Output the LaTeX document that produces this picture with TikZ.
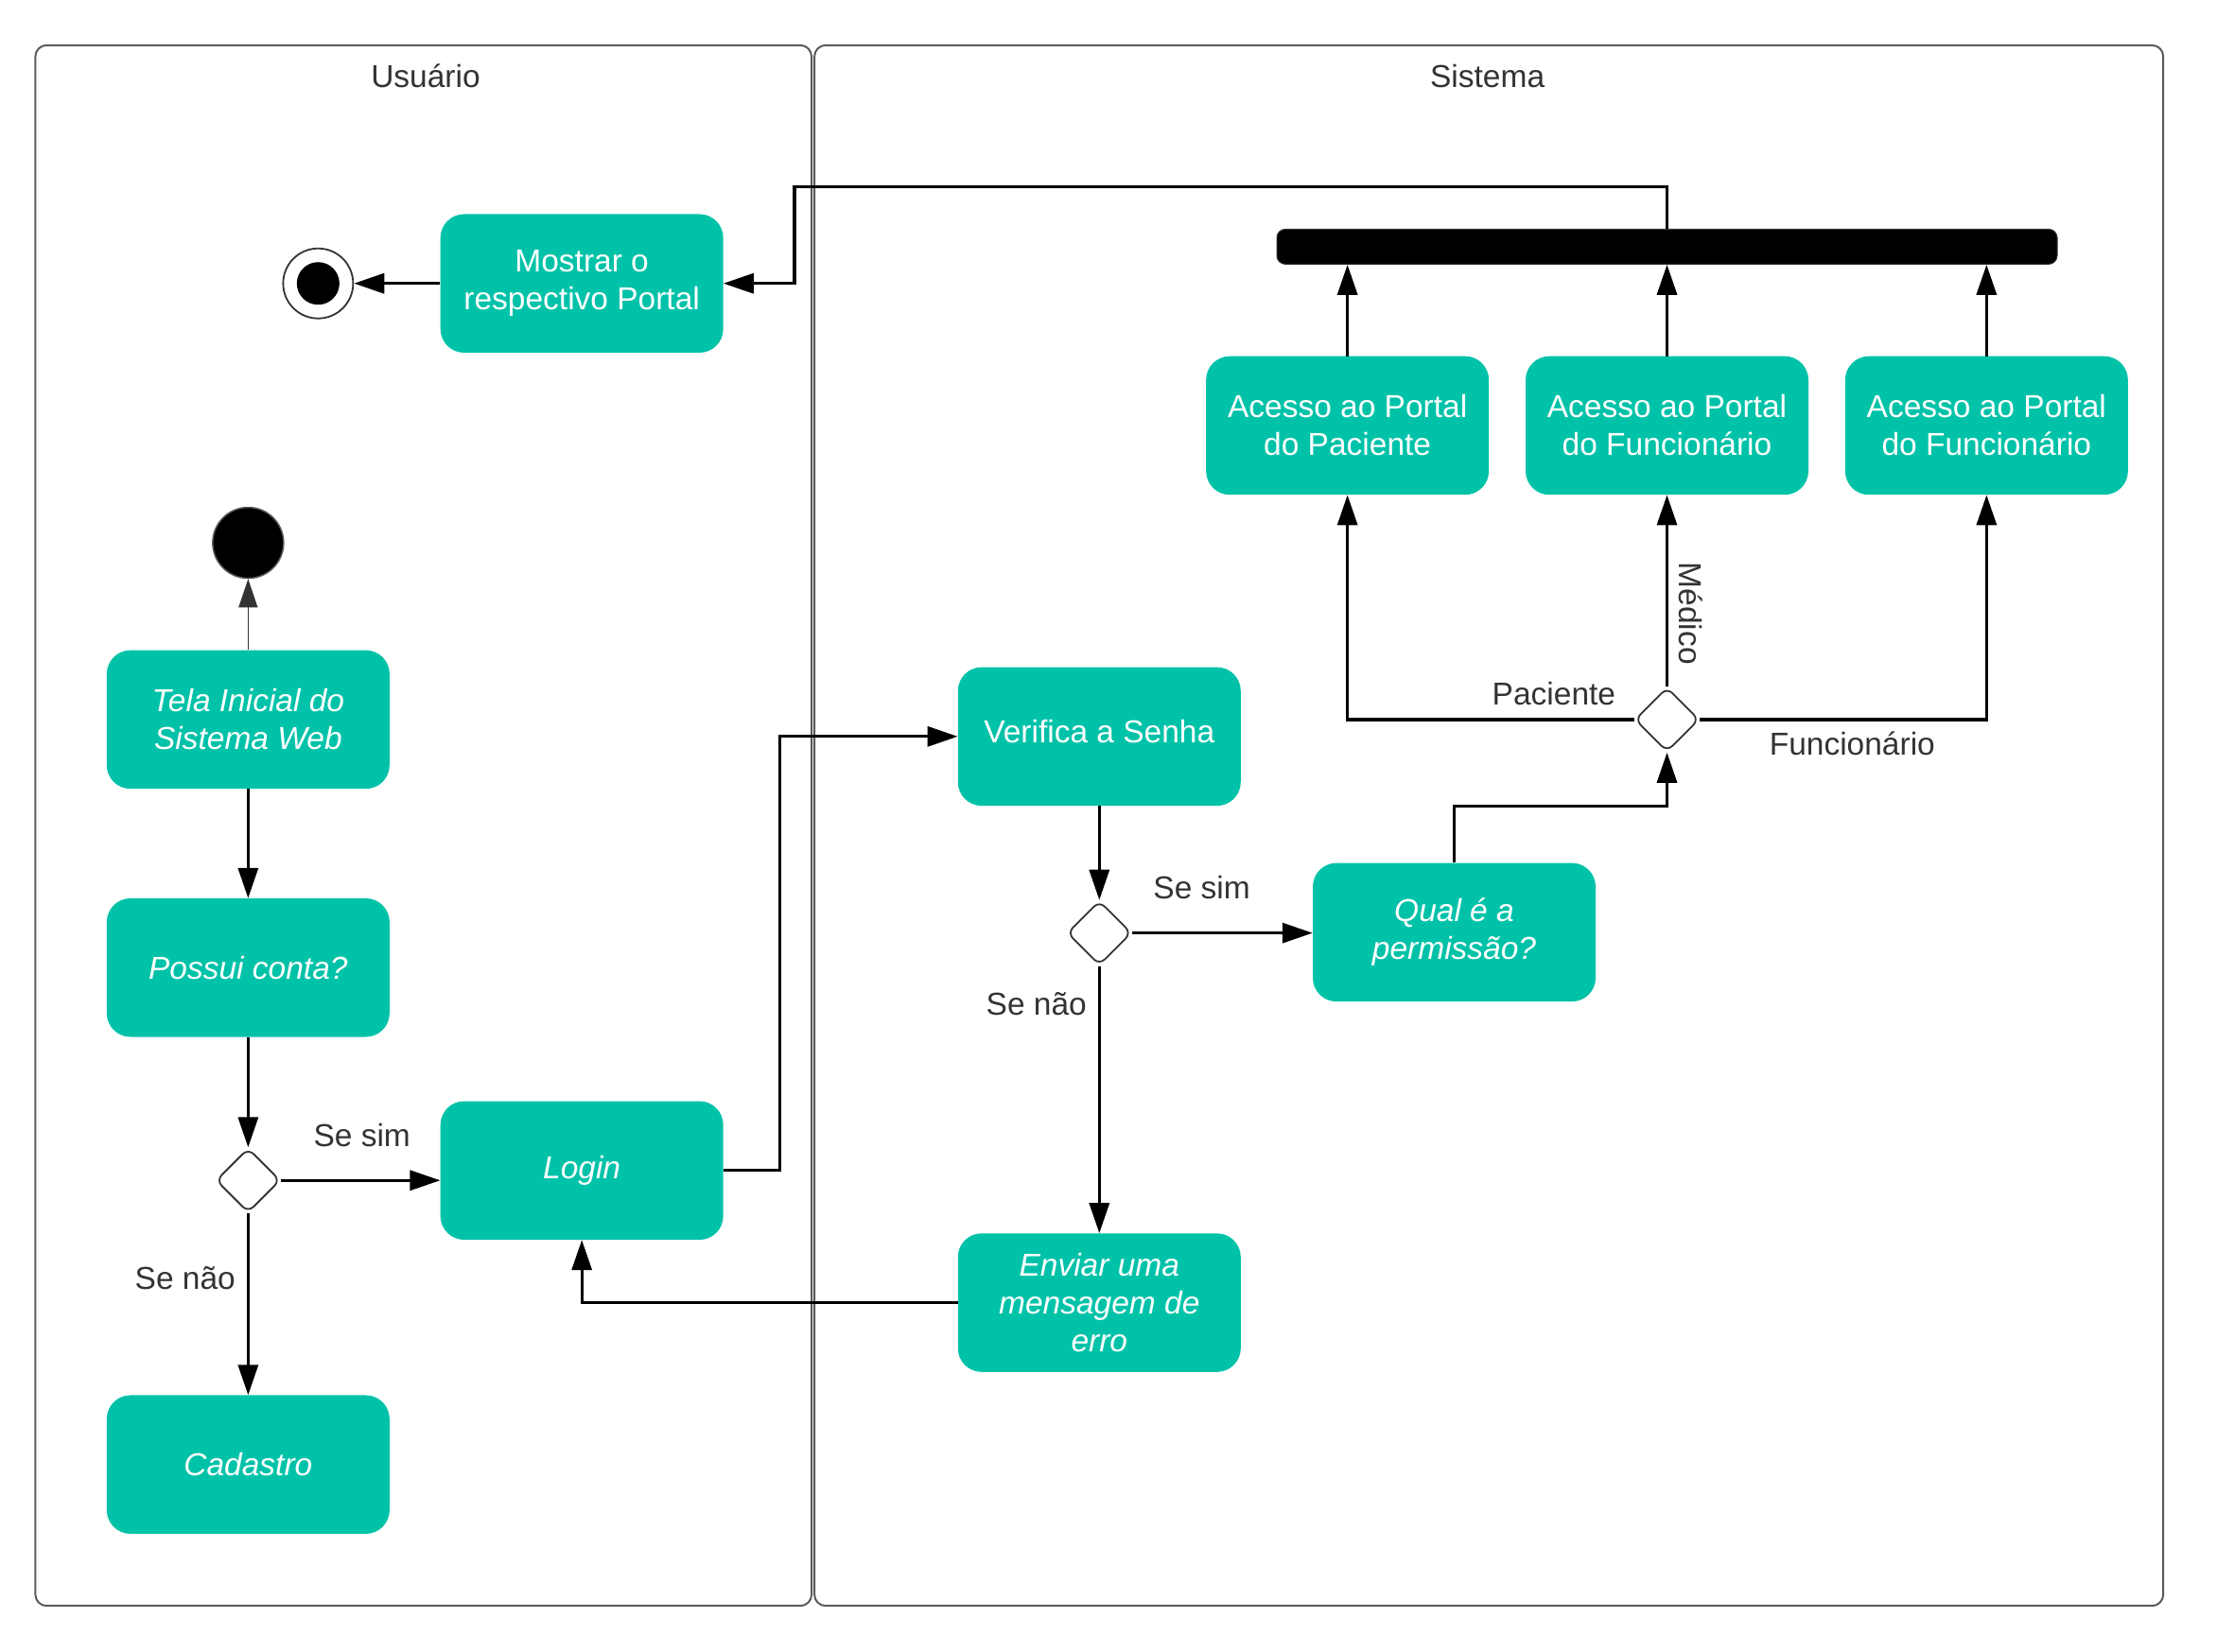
\documentclass[tikz,border=0pt]{standalone}
\usepackage{fontspec}
\setmainfont{Liberation Sans}
\usetikzlibrary{shapes.geometric,arrows.meta}
\definecolor{tealbox}{RGB}{0,194,168}
\definecolor{lbl}{RGB}{51,51,51}
\definecolor{frame}{RGB}{90,90,90}
\begin{document}
\begin{tikzpicture}[x=1.4949pt,y=-1.4949pt,
  every node/.style={font=\fontsize{33.5}{40}\selectfont},
  act/.style={rectangle, rounded corners=25pt, fill=tealbox, draw=none, text=white,
    minimum width=299pt, minimum height=146.5pt, align=center, inner sep=0pt},
  actit/.style={act, font=\fontsize{33.5}{40}\selectfont\itshape},
  dec/.style={diamond, aspect=1, draw=lbl, line width=1.8pt, fill=white, rounded corners=8pt,
    minimum width=68pt, minimum height=68pt, inner sep=0pt},
  lab/.style={text=lbl},
  conn/.style={line width=3.3pt, -{Triangle[length=32pt,width=21pt]}},
  thinconn/.style={line width=1.2pt, draw=lbl, -{Triangle[length=30pt,width=20pt]}},
  lane/.style={draw=frame, line width=2pt, rounded corners=12pt}
]
\useasboundingbox (0,0) rectangle (1568,1168);
% lanes
\draw[lane] (25,32) rectangle (574,1136);
\draw[lane] (576,32) rectangle (1530,1136);
\node[lab] (tU) at (301,54) {Usuário};
\node[lab] (tS) at (1052,54) {Sistema};

% nodes
\node[act] (mostrar) at (411.5,200.5) {Mostrar o\\respectivo Portal};
\node[circle, draw=lbl, line width=1.8pt, fill=white, minimum size=74pt, inner sep=0pt] (endn) at (225,200.5) {};
\node[circle, fill=black, minimum size=45pt, inner sep=0pt] (endin) at (225,200.5) {};
\node[rectangle, rounded corners=9pt, fill=black, draw=lbl, line width=1pt, minimum width=825pt, minimum height=37pt, inner sep=0pt] (bar) at (1179,174.5) {};
\node[act] (a1) at (953,301) {Acesso ao Portal\\do Paciente};
\node[act] (a2) at (1179,301) {Acesso ao Portal\\do Funcionário};
\node[act] (a3) at (1405,301) {Acesso ao Portal\\do Funcionário};
\node[circle, fill=black, draw=frame, line width=1.5pt, minimum size=75pt, inner sep=0pt] (start) at (175.5,384) {};
\node[actit] (tela) at (175.5,509) {Tela Inicial do\\Sistema Web};
\node[actit] (possui) at (175.5,684.5) {Possui conta?};
\node[dec] (d1) at (175.5,835) {};
\node[actit] (login) at (411.5,828) {Login};
\node[actit] (cadastro) at (175.5,1036) {Cadastro};
\node[act, text depth=10pt] (verifica) at (777.5,521) {Verifica a Senha};
\node[dec] (d2) at (777.5,660) {};
\node[actit] (qual) at (1028.5,659.5) {Qual é a\\permissão?};
\node[actit] (enviar) at (777.5,921.5) {Enviar uma\\mensagem de\\erro};
\node[dec] (d3) at (1179,509) {};

% connectors
\draw[thinconn] (tela.north) -- (start.south);
\draw[conn] (tela.south) -- (possui.north);
\draw[conn] (possui.south) -- (d1.north);
\draw[conn] (d1.east) -- (d1.east -| login.west);
\draw[conn] (d1.south) -- (cadastro.north);
\draw[conn] (login.east) -- ++(40,0) |- (verifica.west);
\draw[conn] (verifica.south) -- (d2.north);
\draw[conn] (d2.east) -- (d2.east -| qual.west);
\draw[conn] (d2.south) -- (enviar.north);
\draw[conn] (enviar.west) -| (login.south);
\draw[conn] (qual.north) -- ++(0,-40) -| (d3.south);
\draw[conn] (d3.west) -| (a1.south);
\draw[conn] (d3.north) -- (a2.south);
\draw[conn] (d3.east) -| (a3.south);
\draw[conn] (a1.north) -- (a1.north |- bar.south);
\draw[conn] (a2.north) -- (a2.north |- bar.south);
\draw[conn] (a3.north) -- (a3.north |- bar.south);
\coordinate (k1) at (562,132);
\draw[conn] (bar.north) |- (k1) |- (mostrar.east);
\draw[conn] (mostrar.west) -- (endn.east);

% labels
\node[lab] (l1) at (256,803) {Se sim};
\node[lab] (l2) at (131,904) {Se não};
\node[lab] (l3) at (850,628) {Se sim};
\node[lab] (l4) at (733,710) {Se não};
\node[lab] (l5) at (1099,491) {Paciente};
\node[lab, rotate=-90] (l6) at (1196,434) {Médico};
\node[lab] (l7) at (1310,526) {Funcionário};
\end{tikzpicture}
\end{document}
